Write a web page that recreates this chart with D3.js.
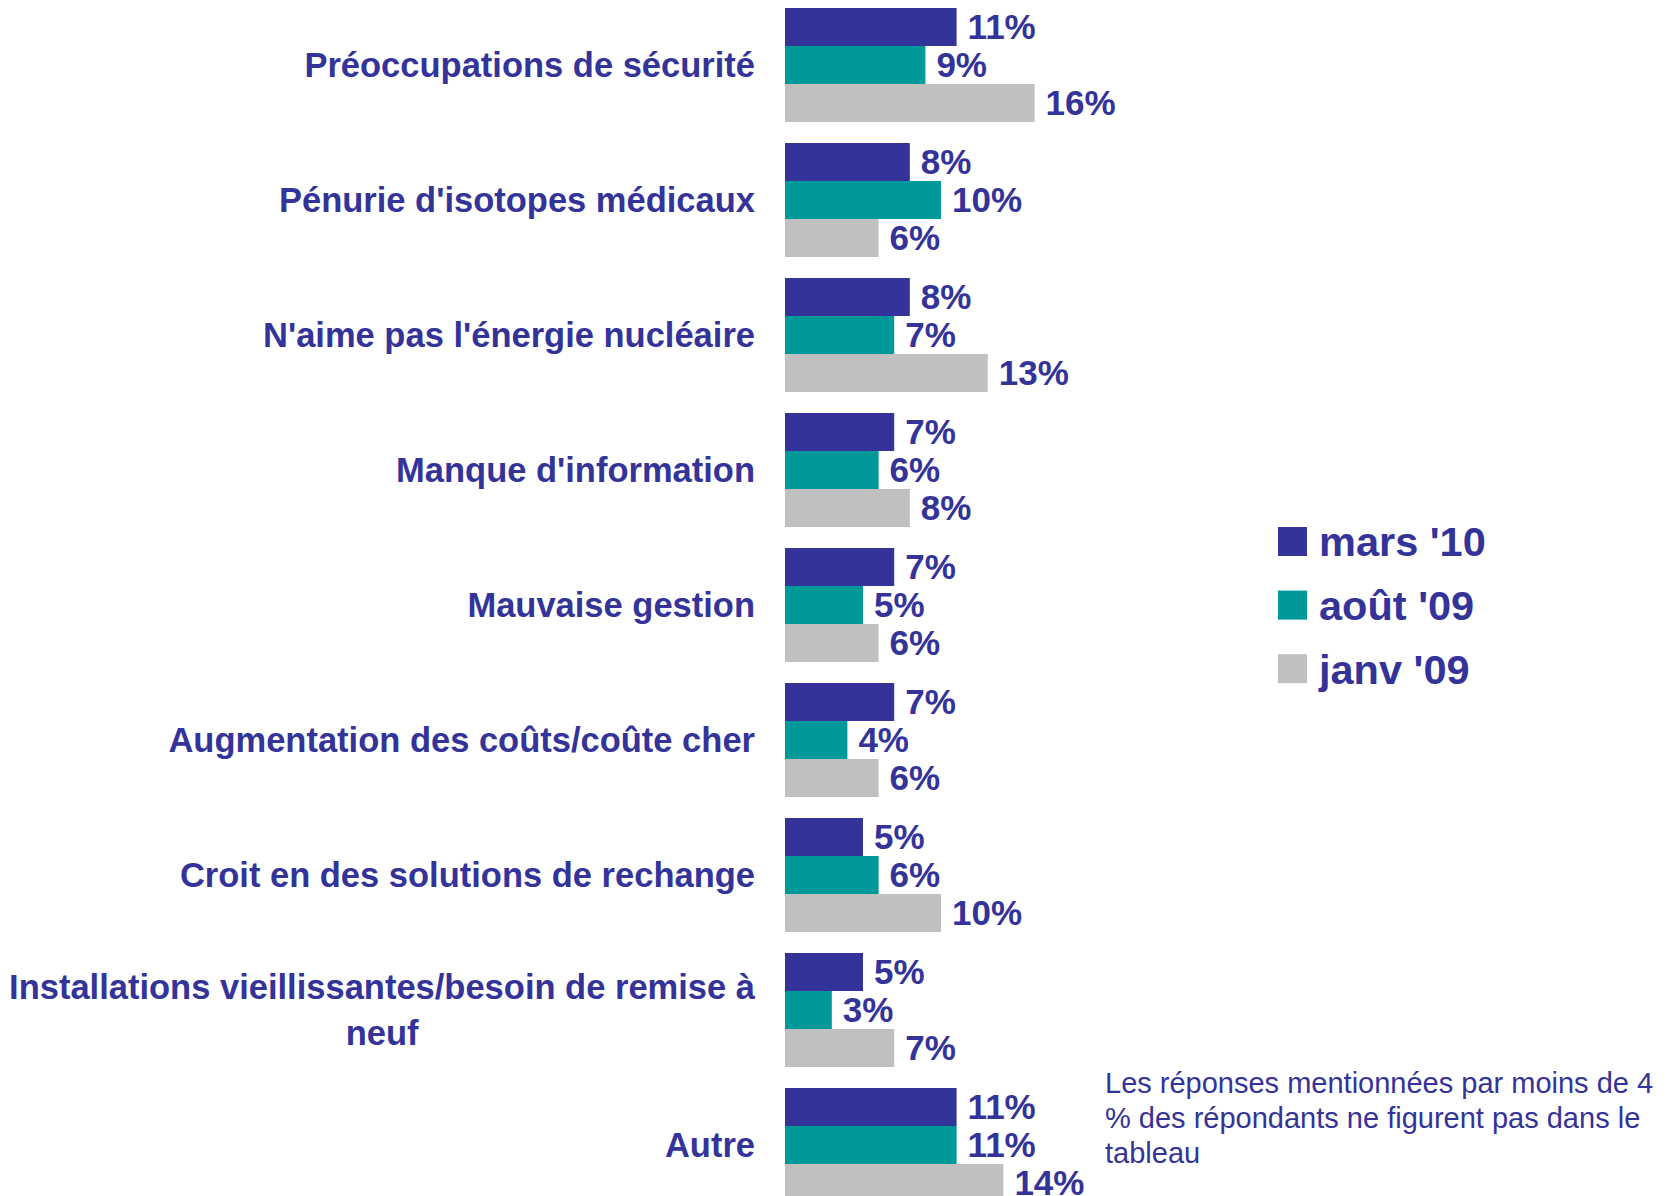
<!DOCTYPE html>
<html>
<head>
<meta charset="utf-8">
<script src="https://cdn.jsdelivr.net/npm/d3@7"></script>
<style>
    body { margin: 0; background: #fff; }
    svg { display: block; font-family: "Liberation Sans", Arial, sans-serif; }
</style>
</head>
<body>
<div id="chart"></div>
<script>
// categories, top to bottom
var categories = [
    "Préoccupations de sécurité",
    "Pénurie d'isotopes médicaux",
    "N'aime pas l'énergie nucléaire",
    "Manque d'information",
    "Mauvaise gestion",
    "Augmentation des coûts/coûte cher",
    "Croit en des solutions de rechange",
    "Installations vieillissantes/besoin de remise à|neuf",
    "Autre"
];

var seriesNames = ["mars '10", "août '09", "janv '09"];
var seriesColors = ["#333399", "#009999", "#c0c0c0"];

// percentages
var mars10 = [11, 8, 8, 7, 7, 7, 5, 5, 11];
var aout09 = [9, 10, 7, 6, 5, 4, 6, 3, 11];
var janv09 = [16, 6, 13, 8, 6, 6, 10, 7, 14];

var footnote = [
    "Les réponses mentionnées par moins de 4",
    "% des répondants ne figurent pas dans le",
    "tableau"
];

var W = 1672, H = 1196;
var textColor = "#333399";

var svg = d3.select("#chart").append("svg")
    .attr("width", W)
    .attr("height", H);

var x = d3.scaleLinear()
    .domain([0, 16])
    .range([785, 785 + 15.6 * 16]);

var y = d3.scaleBand()
    .domain(categories)
    .range([8, 8 + 9 * 135 - 21])
    .paddingInner(21 / 135)
    .paddingOuter(0);

var ySub = d3.scaleBand()
    .domain(seriesNames)
    .range([0, y.bandwidth()]);

var rows = categories.map(function(c, i) {
    return {
        cat: c,
        values: [
            {name: seriesNames[0], v: mars10[i]},
            {name: seriesNames[1], v: aout09[i]},
            {name: seriesNames[2], v: janv09[i]}
        ]
    };
});

var color = d3.scaleOrdinal().domain(seriesNames).range(seriesColors);

var groups = svg.selectAll(".grp")
    .data(rows)
    .enter().append("g")
    .attr("class", "grp")
    .attr("transform", function(d) { return "translate(0," + y(d.cat) + ")"; });

groups.selectAll("rect")
    .data(function(d) { return d.values; })
    .enter().append("rect")
    .attr("x", x(0))
    .attr("y", function(d) { return ySub(d.name); })
    .attr("width", function(d) { return x(d.v) - x(0); })
    .attr("height", ySub.bandwidth())
    .attr("fill", function(d) { return color(d.name); });

groups.selectAll(".pct")
    .data(function(d) { return d.values; })
    .enter().append("text")
    .attr("class", "pct")
    .attr("x", function(d) { return x(d.v) + 11; })
    .attr("y", function(d) { return ySub(d.name) + ySub.bandwidth() / 2; })
    .attr("dy", "0.35em")
    .attr("fill", textColor)
    .style("font-size", "35px")
    .style("font-weight", "bold")
    .text(function(d) { return d.v + "%"; });

// category labels
var labelRight = 755;
groups.each(function(d) {
    var lines = d.cat.split("|");
    var g = d3.select(this);
    var cy = y.bandwidth() / 2;
    var lh = 46;
    var t = g.append("text")
        .attr("class", "cat")
        .attr("fill", textColor)
        .style("font-size", "34.5px")
        .style("font-weight", "bold");
    if (lines.length == 1) {
        t.attr("x", labelRight)
            .attr("y", cy)
            .attr("dy", "0.35em")
            .attr("text-anchor", "end")
            .text(lines[0]);
    } else {
        var spans = t.selectAll("tspan")
            .data(lines)
            .enter().append("tspan")
            .attr("text-anchor", "middle")
            .attr("y", function(l, i) { return cy + (i - (lines.length - 1) / 2) * lh; })
            .attr("dy", "0.35em")
            .text(function(l) { return l; });
        var maxW = 0;
        spans.each(function() { maxW = Math.max(maxW, this.getComputedTextLength()); });
        spans.attr("x", labelRight - maxW / 2);
    }
});

// legend
var legend = svg.append("g").attr("class", "legend");
var leg = legend.selectAll("g")
    .data(seriesNames)
    .enter().append("g")
    .attr("transform", function(d, i) { return "translate(1278," + (527 + i * 63.6) + ")"; });

leg.append("rect")
    .attr("width", 29)
    .attr("height", 29)
    .attr("fill", function(d) { return color(d); });

leg.append("text")
    .attr("x", 41)
    .attr("y", 14.5)
    .attr("dy", "0.36em")
    .attr("fill", textColor)
    .style("font-size", "41.5px")
    .style("font-weight", "bold")
    .text(function(d) { return d; });

// footnote
svg.append("text")
    .attr("fill", textColor)
    .style("font-size", "29px")
    .selectAll("tspan")
    .data(footnote)
    .enter().append("tspan")
    .attr("x", 1105)
    .attr("y", function(d, i) { return 1093 + i * 35; })
    .text(function(d) { return d; });
</script>
</body>
</html>
